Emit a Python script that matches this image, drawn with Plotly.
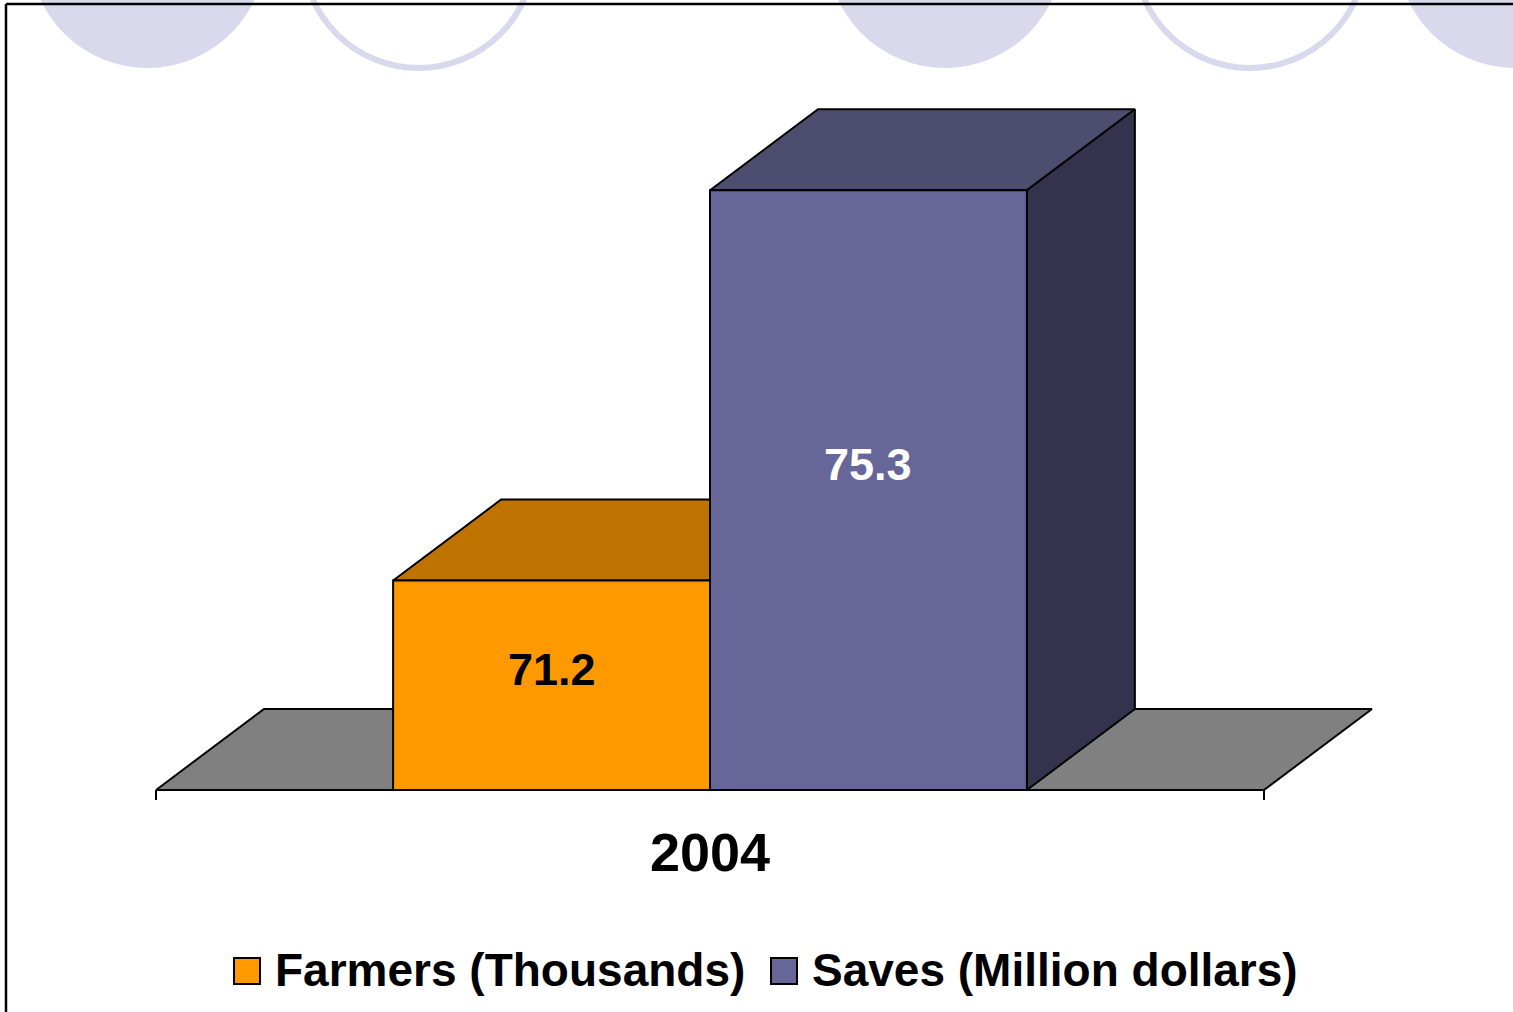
import plotly.graph_objects as go

# ---- data -------------------------------------------------------------
years = ["2004"]
series_names = ["Farmers (Thousands)", "Saves (Million dollars)"]
farmers = [71.2]
saves = [75.3]
series_values = [farmers, saves]

AXIS_MIN = 69  # value axis starts here (floor of the 3-D chart)

# face colours per series: front, top, side
front_colors = ["#FF9900", "#666699"]
top_colors = ["#BF7300", "#4D4D70"]
side_colors = ["#805000", "#33334D"]
label_colors = ["#000000", "#FFFFFF"]
FLOOR_COLOR = "#808080"
DECOR_COLOR = "#DAD8EC"
FONT = "Liberation Sans, Arial, sans-serif"

# ---- page / plot geometry (pixels) ------------------------------------
FIG_W, FIG_H = 1513, 1012
L, T = 100, 60
R_EDGE, B_EDGE = 1440, 800
PLOT_W, PLOT_H = R_EDGE - L, B_EDGE - T

CAT_LEFT_PX = 156      # left edge of the category band
PX_PER_CAT = 1108      # width of one category band
FLOOR_PX = 790         # where AXIS_MIN sits
PX_PER_UNIT = 95.2     # vertical pixels per value unit

x_range = [-0.5 - (CAT_LEFT_PX - L) / PX_PER_CAT,
           -0.5 + (R_EDGE - CAT_LEFT_PX) / PX_PER_CAT]
y_range = [AXIS_MIN - (B_EDGE - FLOOR_PX) / PX_PER_UNIT,
           AXIS_MIN + (FLOOR_PX - T) / PX_PER_UNIT]

DEPTH_X = 108 / PX_PER_CAT    # oblique depth of the 3-D boxes
DEPTH_Y = 81 / PX_PER_UNIT
BAR_W = 0.286                 # bar width as a fraction of a category
LABEL_FRAC = 0.525            # data label height within the bar


def px_x(px):
    return (px - L) / PLOT_W


def px_y(py):
    return 1 - (py - T) / PLOT_H


def face(xs, ys, color):
    return go.Scatter(
        x=xs + [xs[0]], y=ys + [ys[0]], mode="lines", fill="toself",
        fillcolor=color, line=dict(color="black", width=2),
        hoverinfo="skip", showlegend=False,
    )


fig = go.Figure()

# floor of the 3-D plot
n_cat = len(years)
fx0, fx1 = -0.5, n_cat - 0.5
fig.add_trace(face(
    [fx0, fx0 + DEPTH_X, fx1 + DEPTH_X, fx1],
    [AXIS_MIN, AXIS_MIN + DEPTH_Y, AXIS_MIN + DEPTH_Y, AXIS_MIN],
    FLOOR_COLOR))

annotations = []
n_ser = len(series_values)
for ci in range(n_cat):
    for si, vals in enumerate(series_values):
        v = vals[ci]
        x0 = ci - BAR_W * n_ser / 2 + si * BAR_W
        x1 = x0 + BAR_W
        # top face
        fig.add_trace(face(
            [x0, x0 + DEPTH_X, x1 + DEPTH_X, x1],
            [v, v + DEPTH_Y, v + DEPTH_Y, v], top_colors[si]))
        # side face
        fig.add_trace(face(
            [x1, x1, x1 + DEPTH_X, x1 + DEPTH_X],
            [AXIS_MIN, v, v + DEPTH_Y, AXIS_MIN + DEPTH_Y], side_colors[si]))
        # front face
        fig.add_trace(face(
            [x0, x0, x1, x1], [AXIS_MIN, v, v, AXIS_MIN], front_colors[si]))
        annotations.append(dict(
            x=(x0 + x1) / 2, y=AXIS_MIN + LABEL_FRAC * (v - AXIS_MIN),
            xref="x", yref="y", text=f"{v:.1f}", showarrow=False, yshift=11,
            font=dict(family=FONT, size=45, color=label_colors[si], weight="bold"),
        ))

shapes = []

# decorative circles along the top edge: (cx, cy, r, filled)
decor = [(147.5, -50, 118, True), (418.5, -47.5, 115.5, False),
         (945, -50, 118, True), (1250, -47.5, 115.5, False),
         (1515, -50, 118, True)]
for cx, cy, r, filled in decor:
    shapes.append(dict(
        type="circle", xref="paper", yref="paper", layer="below",
        x0=px_x(cx - r), x1=px_x(cx + r), y0=px_y(cy + r), y1=px_y(cy - r),
        fillcolor=DECOR_COLOR if filled else "rgba(0,0,0,0)",
        line=dict(color=DECOR_COLOR, width=0 if filled else 6),
    ))

# frame lines (top and left)
shapes.append(dict(type="line", xref="paper", yref="paper",
                   x0=px_x(6), x1=px_x(FIG_W + 5), y0=px_y(4), y1=px_y(4),
                   line=dict(color="black", width=2.5)))
shapes.append(dict(type="line", xref="paper", yref="paper",
                   x0=px_x(6), x1=px_x(6), y0=px_y(4), y1=px_y(FIG_H + 5),
                   line=dict(color="black", width=2.5)))

# category boundary ticks under the floor
for xb in [fx0 + k for k in range(n_cat + 1)]:
    shapes.append(dict(type="line", xref="x", yref="y", ysizemode="pixel",
                       yanchor=AXIS_MIN, x0=xb, x1=xb, y0=0, y1=-13,
                       line=dict(color="black", width=2)))

# legend: swatches + labels
legend_items = [(234, front_colors[0], series_names[0]),
                (771, front_colors[1], series_names[1])]
for lx, col, name in legend_items:
    shapes.append(dict(type="rect", xref="paper", yref="paper",
                       x0=px_x(lx), x1=px_x(lx + 26), y0=px_y(984), y1=px_y(958),
                       fillcolor=col, line=dict(color="black", width=2)))
    annotations.append(dict(
        x=px_x(lx + 39), y=px_y(970), xref="paper", yref="paper",
        xanchor="left", yanchor="middle", text=name, showarrow=False,
        font=dict(family=FONT, size=46, color="black", weight="bold"),
    ))

fig.update_layout(
    width=FIG_W, height=FIG_H,
    margin=dict(l=L, r=FIG_W - R_EDGE, t=T, b=FIG_H - B_EDGE, pad=0),
    paper_bgcolor="white", plot_bgcolor="white",
    showlegend=False,
    shapes=shapes, annotations=annotations,
    xaxis=dict(range=x_range, showgrid=False, zeroline=False, showline=False,
               tickmode="array", tickvals=list(range(n_cat)), ticktext=years,
               ticks="", ticklabelstandoff=16,
               tickfont=dict(family=FONT, size=54, color="black", weight="bold")),
    yaxis=dict(range=y_range, visible=False, showgrid=False, zeroline=False),
)

fig.write_html("out.html")
